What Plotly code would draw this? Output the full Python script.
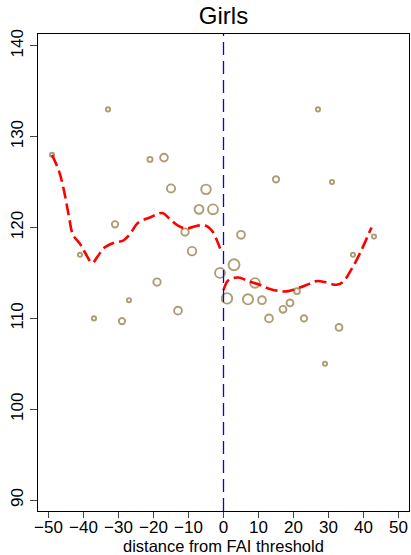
import plotly.graph_objects as go

# Binned means (x = distance from FAI threshold, y = mean outcome, n = relative bin weight)
bin_x = [-49, -41, -37, -33, -31, -29, -27, -21, -19, -17, -15, -13, -11, -9, -7, -5, -3, -1,
         1, 3, 5, 7, 9, 11, 13, 15, 17, 19, 21, 23, 27, 29, 31, 33, 37, 43]
bin_y = [128.0, 117.0, 110.0, 133.0, 120.35, 109.7, 112.0, 127.5, 114.0, 127.7, 124.3, 110.85,
         119.5, 117.4, 122.0, 124.2, 122.0, 115.0,
         112.2, 115.9, 119.2, 112.1, 113.9, 112.0, 110.0, 125.3, 111.0, 111.7, 113.0, 110.0,
         133.0, 105.0, 125.0, 109.0, 117.0, 119.0]
bin_n = [1, 1, 1, 1, 4, 4, 1, 2, 6, 7, 8, 7, 6, 9, 10, 12, 13, 13,
         15, 17, 7, 14, 12, 7, 7, 4, 5, 5, 3, 4, 1, 1, 1, 5, 1, 1]

# Smoothed fit, left and right of threshold
left_x = [-49, -47, -45.6, -44.2, -43, -41, -39.5, -37.5, -36, -34, -31.5, -28.5, -26.5, -24.5,
          -21, -17.5, -15.5, -13, -10.5, -7.5, -5, -3.4, -1.9, -0.5]
left_y = [128.0, 126.2, 124.1, 121.3, 119.2, 118.2, 117.2, 116.1, 116.8, 117.8, 118.3, 118.6,
          119.4, 120.5, 121.1, 121.6, 121.0, 120.2, 119.9, 120.2, 120.2, 119.7, 118.6, 117.2]
right_x = [0, 1.4, 4.2, 7.1, 9.9, 12.8, 16.1, 18.5, 21.8, 24.5, 26.6, 29, 32.3, 34.1, 37, 39.4, 41.7, 42.3]
right_y = [113.1, 114.2, 114.5, 114.1, 113.75, 113.3, 113.0, 113.0, 113.4, 113.8, 114.1, 114.0,
           113.7, 114.0, 115.7, 117.5, 119.5, 120.0]

x_ticks = [-50, -40, -30, -20, -10, 0, 10, 20, 30, 40, 50]
y_ticks = [90, 100, 110, 120, 130, 140]

OLIVE = "#8A7436"
FONT = "Liberation Sans, Arial, sans-serif"

fig = go.Figure()

sizes = [2 + 9 * (n / max(bin_n)) ** 0.5 for n in bin_n]
fig.add_trace(go.Scatter(
    x=bin_x, y=bin_y, mode="markers",
    marker=dict(symbol="circle-open", size=sizes, color=OLIVE, line=dict(width=1.9, color=OLIVE)),
    showlegend=False, hoverinfo="skip"))

for cx, cy in [(left_x, left_y), (right_x, right_y)]:
    fig.add_trace(go.Scatter(
        x=cx, y=cy, mode="lines", line=dict(color="#FF0000", width=2.6, dash="12px,5px", shape="spline"),
        showlegend=False, hoverinfo="skip"))

fig.add_shape(type="line", x0=0, x1=0, y0=0, y1=1, xref="x", yref="paper",
              line=dict(color="#0000FF", width=1.3, dash="13px,6px"))

fig.add_annotation(text="distance from FAI threshold", xref="paper", yref="paper",
                   x=(223.5 - 38) / (409 - 38), xanchor="center",
                   y=-(546 - 511) / (511 - 34), yanchor="middle",
                   showarrow=False, font=dict(size=16.5, family=FONT))

fig.update_layout(
    width=411, height=555,
    margin=dict(l=38, r=2, t=34, b=44, autoexpand=False),
    paper_bgcolor="white", plot_bgcolor="white",
    font=dict(family=FONT, color="black", size=17),
    title=dict(text="Girls", x=223.5 / 411, xanchor="center", y=1 - 16 / 555, yanchor="middle",
               font=dict(size=24, family=FONT)),
    xaxis=dict(range=[-53, 53], tickvals=x_ticks, ticks="outside", ticklen=6, tickwidth=1,
               showgrid=False, zeroline=False, showline=True, linecolor="black", linewidth=1,
               mirror=True, tickfont=dict(size=17), automargin=False, ticklabelstandoff=-5),
    yaxis=dict(range=[88.8, 141.3], tickvals=y_ticks, ticks="outside", ticklen=7, tickwidth=1,
               showgrid=False, zeroline=False, showline=True, linecolor="black", linewidth=1,
               mirror=True, tickangle=-90, tickfont=dict(size=17), automargin=False),
)

fig.write_html("out.html", config={"displayModeBar": False},
               post_script="document.body.style.margin='0';document.body.style.overflow='hidden';")
